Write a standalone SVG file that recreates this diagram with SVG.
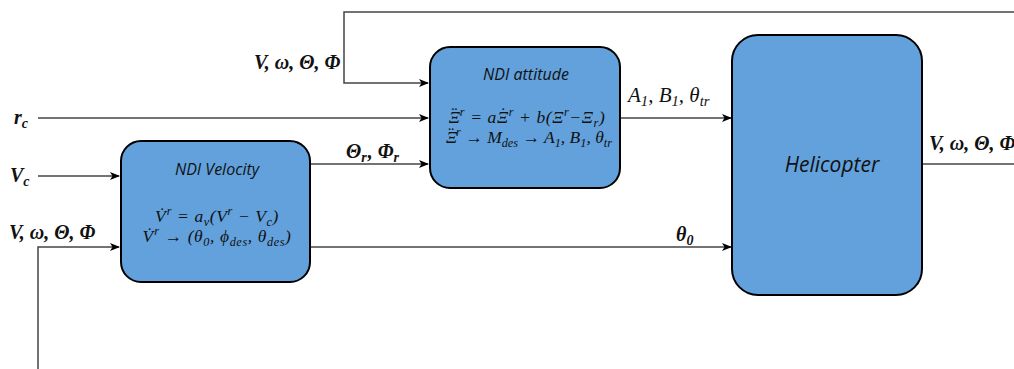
<svg xmlns="http://www.w3.org/2000/svg" width="1014" height="369" viewBox="0 0 1014 369">
<defs>
<marker id="ah" markerWidth="10" markerHeight="8" refX="9" refY="4" orient="auto" markerUnits="userSpaceOnUse">
<path d="M0,0 L10,4 L0,8 L2.5,4 Z" fill="#000"/>
</marker>
<style>
.box{fill:#62a1dc;stroke:#000;stroke-width:2}
.ln{fill:none;stroke:#444;stroke-width:1.5}
.ar{marker-end:url(#ah)}
.ttl{font-family:"Open Sans","Liberation Sans",sans-serif;font-style:italic;font-size:16px;fill:#111;text-anchor:middle}
.eq{font-family:"Liberation Serif","DejaVu Serif",serif;font-style:italic;font-size:17.5px;letter-spacing:0.6px;fill:#111;text-anchor:middle}
.lb{font-family:"Liberation Serif","DejaVu Serif",serif;font-style:italic;font-weight:bold;font-size:20px;fill:#111}
.sub{font-size:70%;baseline-shift:-4px}
.sup{font-size:70%;baseline-shift:7px}
.up{font-style:normal}
</style>
</defs>
<g id="connectors">
<path class="ln ar" d="M1014,12 H344 V83 H428"/>
<path class="ln ar" d="M38,118 H428"/>
<path class="ln ar" d="M310,164 H428"/>
<path class="ln ar" d="M38,176 H119"/>
<path class="ln ar" d="M38,369 V247 H119"/>
<path class="ln ar" d="M310,247 H731"/>
<path class="ln ar" d="M620,118 H731"/>
<path class="ln" d="M922,164 H1014"/>
</g>
<g id="labels">
<text class="lb" x="254" y="69">V, ω, Θ, Φ</text>
<text class="lb" x="14" y="124">r<tspan class="sub">c</tspan></text>
<text class="lb" x="10" y="182">V<tspan class="sub">c</tspan></text>
<text class="lb" x="9" y="239">V, ω, Θ, Φ</text>
<text class="lb" x="346" y="158">Θ<tspan class="sub">r</tspan><tspan dx="1">, Φ</tspan><tspan class="sub">r</tspan></text>
<text class="lb" x="628" y="102" style="font-weight:normal;font-size:21px">A<tspan class="sub">1</tspan>, B<tspan class="sub">1</tspan>, θ<tspan class="sub">tr</tspan></text>
<text class="lb" x="676" y="241">θ<tspan class="sub">0</tspan></text>
<text class="lb" x="929" y="150">V, ω, Θ, Φ</text>
</g>
<g id="ndi-velocity">
<rect class="box" x="121" y="141" width="189" height="141" rx="20"/>
<text class="ttl" x="217" y="175">NDI Velocity</text>
<text class="eq" x="217" y="222">V<tspan class="up" dx="-7" dy="-3">˙</tspan><tspan class="sup" dx="1" dy="3">r</tspan> = a<tspan class="sub">v</tspan>(V<tspan class="sup">r</tspan> − V<tspan class="sub">c</tspan>)</text>
<text class="eq" x="217" y="242">V<tspan class="up" dx="-7" dy="-3">˙</tspan><tspan class="sup" dx="1" dy="3">r</tspan> → (θ<tspan class="sub">0</tspan>, ϕ<tspan class="sub">des</tspan>, θ<tspan class="sub">des</tspan>)</text>
</g>
<g id="ndi-attitude">
<rect class="box" x="430" y="47" width="190" height="141" rx="20"/>
<text class="ttl" x="526" y="80">NDI attitude</text>
<text class="eq" x="527" y="123">Ξ<tspan class="up" dx="-9" dy="-4">¨</tspan><tspan class="sup" dx="2" dy="4">r</tspan> = aΞ<tspan class="up" dx="-8.5" dy="-4">˙</tspan><tspan class="sup" dx="2" dy="4">r</tspan> + b(Ξ<tspan class="sup">r</tspan>−Ξ<tspan class="sub">r</tspan>)</text>
<text class="eq" x="529" y="143" style="letter-spacing:0">Ξ<tspan class="up" dx="-9" dy="-4">¨</tspan><tspan class="sup" dx="2" dy="4">r</tspan> → M<tspan class="sub">des</tspan> → A<tspan class="sub">1</tspan>, B<tspan class="sub">1</tspan>, θ<tspan class="sub">tr</tspan></text>
</g>
<g id="helicopter">
<rect class="box" x="732" y="35" width="190" height="260" rx="26"/>
<text class="ttl" x="832" y="172" style="font-size:21px">Helicopter</text>
</g>
</svg>
